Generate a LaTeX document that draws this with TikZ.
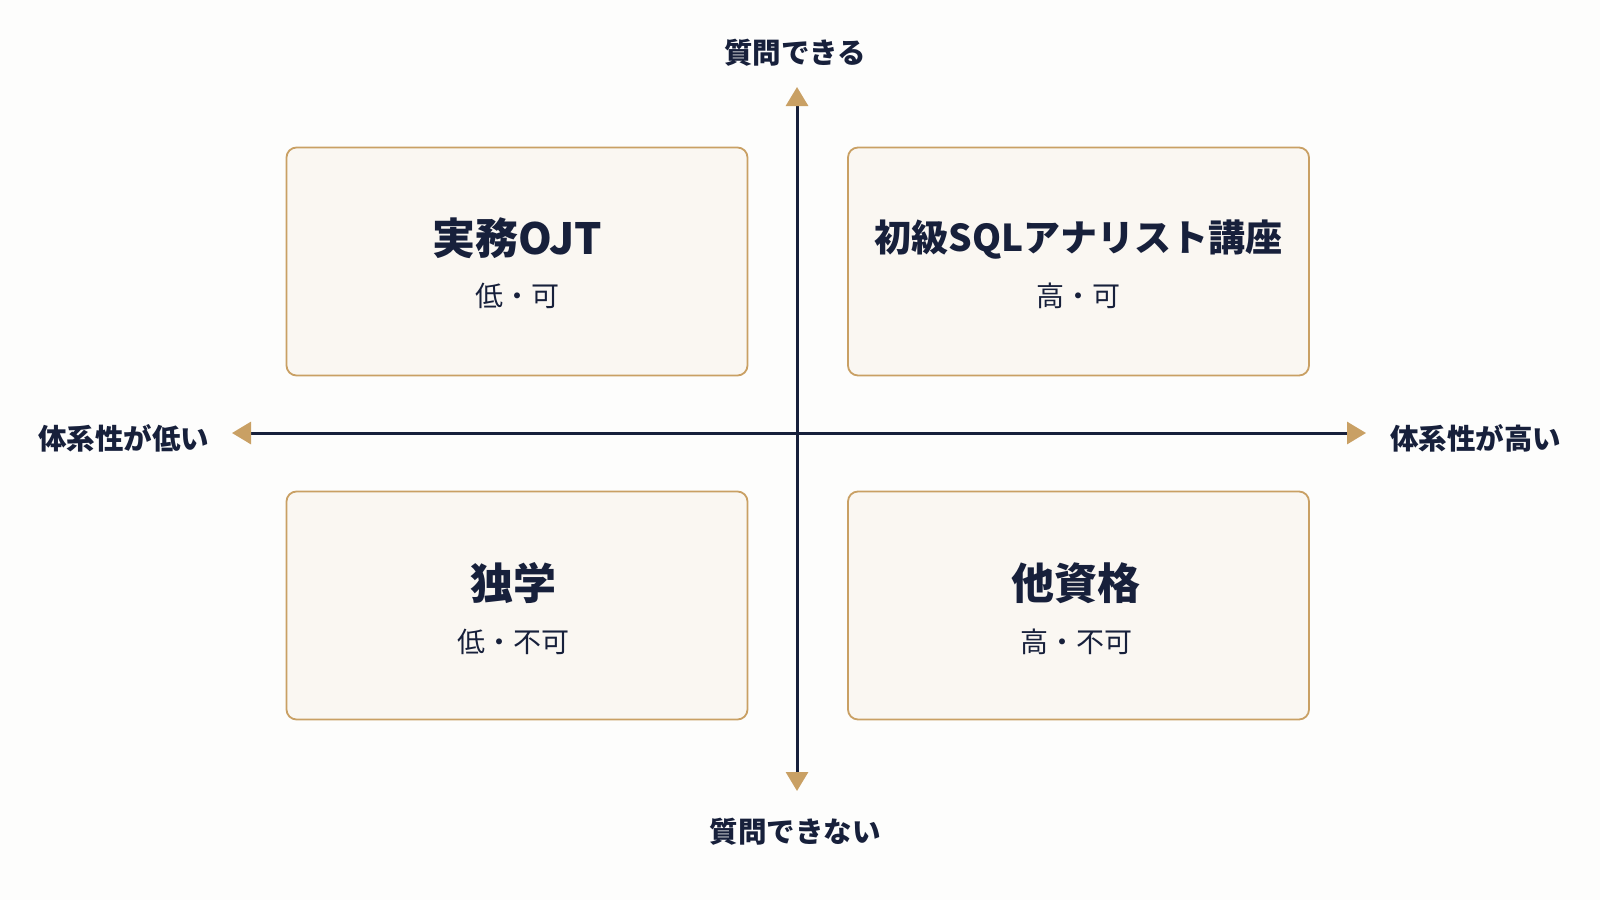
\documentclass[tikz,border=0pt]{standalone}
\usepackage{fontspec}
\setmainfont{Noto Sans CJK JP}
\usetikzlibrary{arrows.meta}
\definecolor{navy}{HTML}{17203B}
\definecolor{gold}{HTML}{C9A064}
\definecolor{cream}{HTML}{FAF7F2}
\definecolor{bg}{HTML}{FDFDFC}
\tikzset{
  quad/.style={draw=gold, line width=1.8pt, fill=cream, rounded corners=10pt,
    minimum width=461pt, minimum height=228pt, inner sep=0pt},
  ttl/.style={text=navy, font=\fontsize{43}{50}\selectfont\bfseries, inner sep=0pt, anchor=center},
  sub/.style={text=navy, font=\fontsize{28}{32}\selectfont, inner sep=0pt, anchor=center},
  axlab/.style={text=navy, font=\fontsize{28.5}{32}\selectfont\bfseries, inner sep=0pt},
  axis/.style={draw=navy, line width=3pt,
    {Triangle[length=19pt,width=22pt,color=gold]}-{Triangle[length=19pt,width=22pt,color=gold]}}
}
\begin{document}
\begin{tikzpicture}[x=1pt,y=-1pt]
\fill[bg] (0,0) rectangle (1600,900);
\useasboundingbox (0,0) rectangle (1600,900);
% boxes
\node[quad] (tl) at (517,261.5) {};
\node[quad] (tr) at (1078.5,261.5) {};
\node[quad] (bl) at (517,605.5) {};
\node[quad] (br) at (1078.5,605.5) {};
% titles
\node[ttl] (tlt) at (517,238) {実務OJT};
\node[sub] (tls) at (517,296) {低・可};
\node[ttl, font=\fontsize{37}{44}\selectfont\bfseries] (trt) at (1078.5,240) {初級SQLアナリスト講座};
\node[sub] (trs) at (1078.5,296) {高・可};
\node[ttl] (blt) at (513,583) {独学};
\node[sub] (bls) at (513,642) {低・不可};
\node[ttl] (brt) at (1076,583) {他資格};
\node[sub] (brs) at (1076,642) {高・不可};
% axes
\coordinate (xl) at (232,433);
\coordinate (xr) at (1366,433);
\coordinate (yt) at (797,87);
\coordinate (yb) at (797,791);
\draw[axis] (xl) -- (xr);
\draw[axis] (yb) -- (yt);
% axis labels
\node[axlab] (top) at (795,53) {質問できる};
\node[axlab] (bot) at (795,832) {質問できない};
\node[axlab, anchor=west] (lft) at (38,438) {体系性が低い};
\node[axlab, anchor=west] (rgt) at (1390,438) {体系性が高い};
\end{tikzpicture}
\end{document}
